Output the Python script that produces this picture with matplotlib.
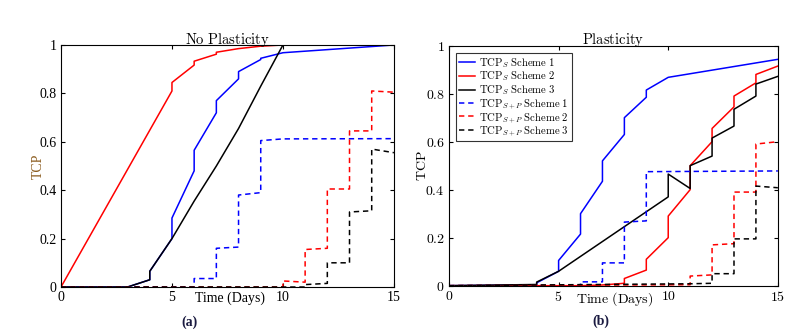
import matplotlib.pyplot as plt

plt.rcParams['mathtext.fontset'] = 'cm'
plt.rcParams['font.family'] = 'Liberation Serif'

# --- data: (a) No Plasticity ---
a_s1_x = [0, 3, 4, 4, 5, 5, 6, 6, 7, 7, 8, 8, 9, 9, 10, 15]
a_s1_y = [0, 0, 0.03, 0.065, 0.2, 0.285, 0.48, 0.565, 0.72, 0.77, 0.86, 0.89, 0.94, 0.945, 0.968, 1.0]
a_s2_x = [0, 5, 5, 6, 6, 7, 7, 8, 9, 10, 15]
a_s2_y = [0, 0.81, 0.845, 0.917, 0.933, 0.962, 0.97, 0.985, 0.995, 1.0, 1.0]
a_s3_x = [0, 3, 4, 4, 5, 6, 7, 8, 9, 10, 15]
a_s3_y = [0, 0, 0.03, 0.065, 0.2, 0.355, 0.5, 0.655, 0.83, 1.0, 1.0]
a_p1_x = [0, 6, 6, 7, 7, 8, 8, 9, 9, 10, 15]
a_p1_y = [0, 0, 0.035, 0.035, 0.16, 0.165, 0.38, 0.39, 0.605, 0.612, 0.613]
a_p2_x = [0, 10, 10, 11, 11, 12, 12, 13, 13, 14, 14, 15]
a_p2_y = [0, 0, 0.025, 0.02, 0.155, 0.16, 0.405, 0.405, 0.645, 0.645, 0.81, 0.805]
a_p3_x = [0, 11, 11, 12, 12, 13, 13, 14, 14, 15]
a_p3_y = [0, 0, 0.01, 0.015, 0.1, 0.1, 0.31, 0.315, 0.57, 0.555]

# --- data: (b) Plasticity ---
b_s1_x = [0, 4, 4, 5, 5, 6, 6, 7, 7, 8, 8, 9, 9, 10, 15]
b_s1_y = [0, 0.003, 0.012, 0.06, 0.105, 0.215, 0.3, 0.435, 0.52, 0.63, 0.7, 0.785, 0.815, 0.868, 0.943]
b_s2_x = [0, 6, 7, 8, 8, 9, 9, 10, 10, 11, 11, 12, 12, 13, 13, 14, 14, 15]
b_s2_y = [0, 0, 0.003, 0.01, 0.03, 0.065, 0.11, 0.2, 0.29, 0.4, 0.5, 0.6, 0.655, 0.745, 0.79, 0.845, 0.88, 0.915]
b_s3_x = [0, 4, 4, 5, 10, 10, 11, 11, 12, 12, 13, 13, 14, 14, 15]
b_s3_y = [0, 0.005, 0.015, 0.06, 0.37, 0.465, 0.405, 0.5, 0.54, 0.615, 0.665, 0.735, 0.79, 0.84, 0.872]
b_p1_x = [0, 6, 6, 7, 7, 8, 8, 9, 9, 15]
b_p1_y = [0, 0, 0.016, 0.016, 0.095, 0.095, 0.265, 0.27, 0.475, 0.478]
b_p2_x = [0, 11, 11, 12, 12, 13, 13, 14, 14, 15]
b_p2_y = [0, 0.004, 0.04, 0.045, 0.17, 0.175, 0.39, 0.39, 0.59, 0.6]
b_p3_x = [0, 11, 12, 12, 13, 13, 14, 14, 15]
b_p3_y = [0, 0.008, 0.01, 0.05, 0.05, 0.195, 0.195, 0.415, 0.408]

xticks = [0, 5, 10, 15]
yticks = [0, 0.2, 0.4, 0.6, 0.8, 1.0]
yticklabels = ['0', '0.2', '0.4', '0.6', '0.8', '1']

labels = [r'$\mathrm{TCP}_S\ \mathrm{Scheme\ 1}$', r'$\mathrm{TCP}_S\ \mathrm{Scheme\ 2}$',
          r'$\mathrm{TCP}_S\ \mathrm{Scheme\ 3}$', r'$\mathrm{TCP}_{S+P}\ \mathrm{Scheme\ 1}$',
          r'$\mathrm{TCP}_{S+P}\ \mathrm{Scheme\ 2}$', r'$\mathrm{TCP}_{S+P}\ \mathrm{Scheme\ 3}$']

fig = plt.figure(figsize=(8.1, 3.32), dpi=100)
ax1 = fig.add_axes([0.0753, 0.1355, 0.411, 0.729])
ax2 = fig.add_axes([0.5543, 0.1395, 0.406, 0.723])


def draw(ax, series):
    cols = ['#0000ff', '#ff0000', '#000000']
    lines = []
    for i, (x, y) in enumerate(series):
        ls = '-' if i < 3 else (0, (3.5, 2.5))
        l, = ax.plot(x, y, color=cols[i % 3], lw=1.1, linestyle=ls)
        lines.append(l)
    ax.set_xlim(0, 15)
    ax.set_ylim(0, 1)
    ax.set_xticks(xticks)
    ax.set_yticks(yticks)
    ax.set_yticklabels(yticklabels)
    ax.tick_params(direction='in', top=True, right=True, labelsize=10, length=3, pad=3)
    for s in ax.spines.values():
        s.set_linewidth(0.8)
    return lines


draw(ax1, [(a_s1_x, a_s1_y), (a_s2_x, a_s2_y), (a_s3_x, a_s3_y),
           (a_p1_x, a_p1_y), (a_p2_x, a_p2_y), (a_p3_x, a_p3_y)])
lines = draw(ax2, [(b_s1_x, b_s1_y), (b_s2_x, b_s2_y), (b_s3_x, b_s3_y),
                   (b_p1_x, b_p1_y), (b_p2_x, b_p2_y), (b_p3_x, b_p3_y)])

ax1.set_title(r'$\mathrm{No\ Plasticity}$', fontsize=10.5, pad=1)
ax1.set_ylabel('TCP', fontsize=10, color='#8a5a1c')
ax1.yaxis.set_label_coords(-0.048, 0.5)
ax1.set_xlabel('Time (Days)', fontsize=10)
ax1.xaxis.set_label_coords(0.507, -0.02)

ax2.set_title(r'$\mathrm{Plasticity}$', fontsize=10.5, pad=1)
ax2.set_ylabel(r'$\mathrm{TCP}$', fontsize=10)
ax2.yaxis.set_label_coords(-0.06, 0.5)
ax2.set_xlabel(r'$\mathrm{Time\ (Days)}$', fontsize=10)
ax2.xaxis.set_label_coords(0.505, -0.02)
ax2.set_yticklabels(['$' + t + '$' for t in yticklabels])
ax2.set_xticklabels(['$' + str(t) + '$' for t in xticks])

leg = ax2.legend(lines, labels, loc='upper left', fontsize=7.7, frameon=True, fancybox=False,
                 edgecolor='black', handlelength=1.5, handletextpad=0.4, labelspacing=0.0,
                 borderpad=0.25, borderaxespad=0.7)
leg.get_frame().set_linewidth(0.8)

fig.text(190 / 810, 1 - 322 / 332, '(a)', fontsize=10, fontweight='bold', color='#1a1a40',
         ha='center', va='center')
fig.text(601 / 810, 1 - 321 / 332, '(b)', fontsize=10, fontweight='bold', color='#1a1a40',
         ha='center', va='center')

fig.savefig('out.png', dpi=100)
